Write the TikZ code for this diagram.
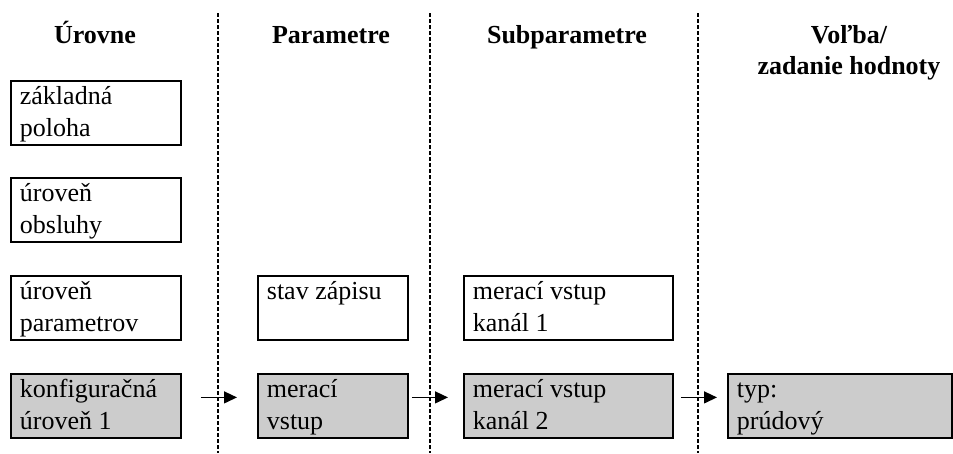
\documentclass[tikz,border=0pt]{standalone}
\usepackage{fontspec}
\setmainfont{Liberation Serif}
\usetikzlibrary{arrows.meta}
\definecolor{boxgray}{RGB}{204,204,204}
\newcommand{\boxfnt}{\fontsize{26pt}{32pt}\selectfont}
\newcommand{\bxt}[2]{\parbox[c][64pt][t]{#1}{\leftskip=9pt\rightskip=0pt plus 1fil\parindent=0pt\vspace*{1.5pt}\strut #2}}
\tikzset{
  lvlbox/.style={draw, line width=1.8pt, anchor=north west, inner sep=0pt,
     minimum height=64pt, font=\boxfnt},
  cfgbox/.style={lvlbox, fill=boxgray},
  hdr/.style={font=\boxfnt\bfseries, anchor=base, align=center, inner sep=0pt},
  sep/.style={line width=1.3pt, dash pattern=on 4pt off 2pt},
  arr/.style={line width=1.3pt, -{Triangle[length=13pt,width=12pt]}},
}
\begin{document}
\begin{tikzpicture}[x=1pt,y=-1pt]
\useasboundingbox (0,0) rectangle (953,453);
% separators
\coordinate (s1t) at (218,13); \coordinate (s1b) at (218,453);
\coordinate (s2t) at (430,13); \coordinate (s2b) at (430,453);
\coordinate (s3t) at (698,13); \coordinate (s3b) at (698,453);
\draw[sep] (s1t) -- (s1b);
\draw[sep] (s2t) -- (s2b);
\draw[sep] (s3t) -- (s3b);
% headers
\node[hdr] (h1) at (95,43) {Úrovne};
\node[hdr] (h2) at (331,43) {Parametre};
\node[hdr] (h3) at (567,43) {Subparametre};
\node[hdr] (h4) at (849,74) {Voľba/\\[-1pt]zadanie hodnoty};
% column 1
\node[lvlbox] (a1) at (10,80) {\bxt{170pt}{základná\\poloha}};
\node[lvlbox] (a2) at (10,177) {\bxt{170pt}{úroveň\\obsluhy}};
\node[lvlbox] (a3) at (10,275) {\bxt{170pt}{úroveň\\parametrov}};
\node[cfgbox] (a4) at (10,373) {\bxt{170pt}{konfiguračná\\úroveň 1}};
% column 2
\node[lvlbox] (b3) at (257,275) {\bxt{150pt}{stav zápisu}};
\node[cfgbox] (b4) at (257,373) {\bxt{150pt}{merací\\vstup}};
% column 3
\node[lvlbox] (c3) at (463,275) {\bxt{209pt}{merací vstup\\kanál 1}};
\node[cfgbox] (c4) at (463,373) {\bxt{209pt}{merací vstup\\kanál 2}};
% column 4
\node[cfgbox] (d4) at (727,373) {\bxt{224pt}{typ:\\prúdový}};
% arrows
\draw[arr, shorten <=19pt, shorten >=20pt] ([yshift=8.5pt]a4.east) -- ([yshift=8.5pt]b4.west);
\draw[arr, shorten <=3pt, shorten >=15pt] ([yshift=8.5pt]b4.east) -- ([yshift=8.5pt]c4.west);
\draw[arr, shorten <=7pt, shorten >=10pt] ([yshift=8.5pt]c4.east) -- ([yshift=8.5pt]d4.west);
\end{tikzpicture}
\end{document}
